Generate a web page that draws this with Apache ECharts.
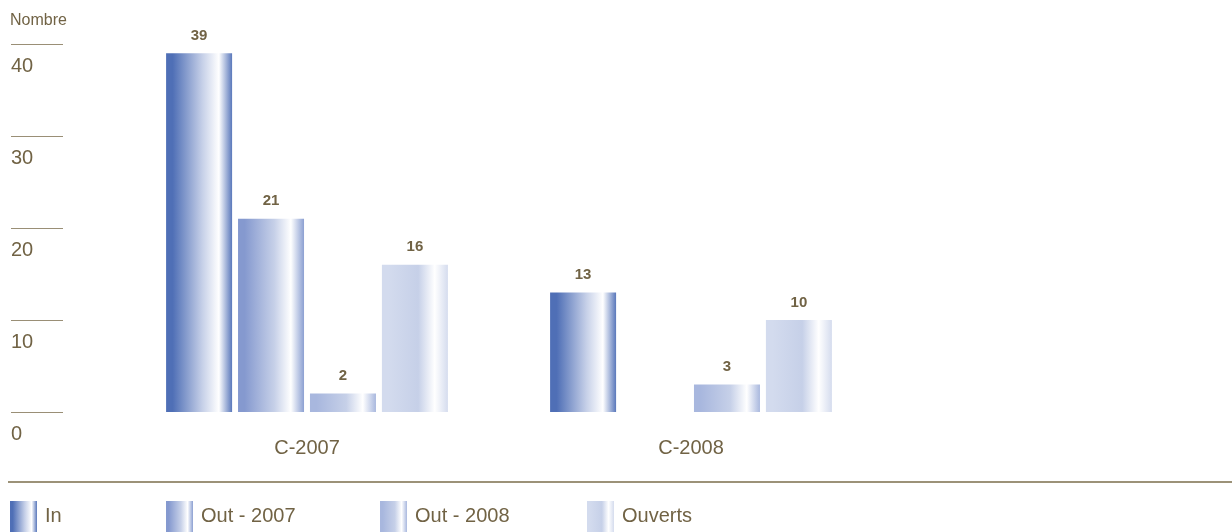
<!DOCTYPE html>
<html>
<head>
<meta charset="utf-8">
<script src="https://cdn.jsdelivr.net/npm/echarts@6/dist/echarts.min.js"></script>
<style>
  html, body { margin: 0; padding: 0; background: #fff; }
  #chart { width: 1232px; height: 532px; }
</style>
</head>
<body>
<div id="chart"></div>
<script>
let categories = ['C-2007', 'C-2008']
let seriesNames = ['In', 'Out - 2007', 'Out - 2008', 'Ouverts']
let dataIn = [39, 13]
let dataOut2007 = [21, '-']
let dataOut2008 = [2, 3]
let dataOuverts = [16, 10]
let yTicks = [0, 10, 20, 30, 40]

const textColor = '#716345'
const font = '"Liberation Sans", "DejaVu Sans", sans-serif'

// barre en degrade horizontal: couleur -> blanc -> couleur
function barGrad(c, edge) {
  return new echarts.graphic.LinearGradient(0, 0, 1, 0, [
    { offset: 0, color: c },
    { offset: 0.1, color: c },
    { offset: 0.55, color: '#c6d0e8' },
    { offset: 0.8, color: '#ffffff' },
    { offset: 1, color: edge },
  ])
}
const colors = [
  barGrad('#4f6fb6', '#5a78bb'),
  barGrad('#8599cf', '#8ca0d2'),
  barGrad('#a8b7de', '#a9b8de'),
  barGrad('#d3dbee', '#d5dcee'),
]

function mkSeries(name, data, i) {
  return {
    name: name,
    type: 'bar',
    data: data,
    barWidth: 66,
    barGap: '9%',
    itemStyle: { color: colors[i] },
    label: {
      show: true,
      position: 'top',
      distance: 10,
      color: textColor,
      fontFamily: font,
      fontWeight: 'bold',
      fontSize: 15,
    },
  }
}

const legendLeft = [10, 166, 380, 587]

const chart = echarts.init(document.getElementById('chart'))
chart.setOption({
  backgroundColor: '#fff',
  animation: false,
  title: {
    text: 'Nombre',
    left: 10,
    top: 13,
    padding: 0,
    textStyle: { color: textColor, fontFamily: font, fontWeight: 'normal', fontSize: 16 },
  },
  grid: { left: 115, right: 349, top: 44, bottom: 120 },
  legend: seriesNames.map((n, i) => ({
    data: [n],
    left: legendLeft[i],
    top: 501,
    padding: 0,
    itemWidth: 27,
    itemHeight: 31,
    icon: 'rect',
    selectedMode: false,
    textStyle: { color: textColor, fontFamily: font, fontSize: 20, padding: [0, 0, 0, 3] },
  })),
  xAxis: {
    type: 'category',
    data: categories,
    axisLine: { show: false },
    axisTick: { show: false },
    axisLabel: { color: textColor, fontFamily: font, fontSize: 20, margin: 26 },
  },
  yAxis: {
    type: 'value',
    min: yTicks[0],
    max: yTicks[yTicks.length - 1],
    interval: 10,
    offset: 52,
    axisLine: { show: false },
    axisTick: { show: true, length: 52, lineStyle: { color: '#9a8f76', width: 1 } },
    splitLine: { show: false },
    axisLabel: {
      color: textColor,
      fontFamily: font,
      fontSize: 20,
      align: 'left',
      verticalAlign: 'top',
      margin: 52,
      padding: [12, 0, 0, 0],
    },
  },
  graphic: [{
    type: 'line',
    shape: { x1: 8, y1: 482, x2: 1232, y2: 482 },
    style: { stroke: '#9c9278', lineWidth: 2 },
  }],
  series: [
    mkSeries(seriesNames[0], dataIn, 0),
    mkSeries(seriesNames[1], dataOut2007, 1),
    mkSeries(seriesNames[2], dataOut2008, 2),
    mkSeries(seriesNames[3], dataOuverts, 3),
  ],
})
</script>
</body>
</html>
